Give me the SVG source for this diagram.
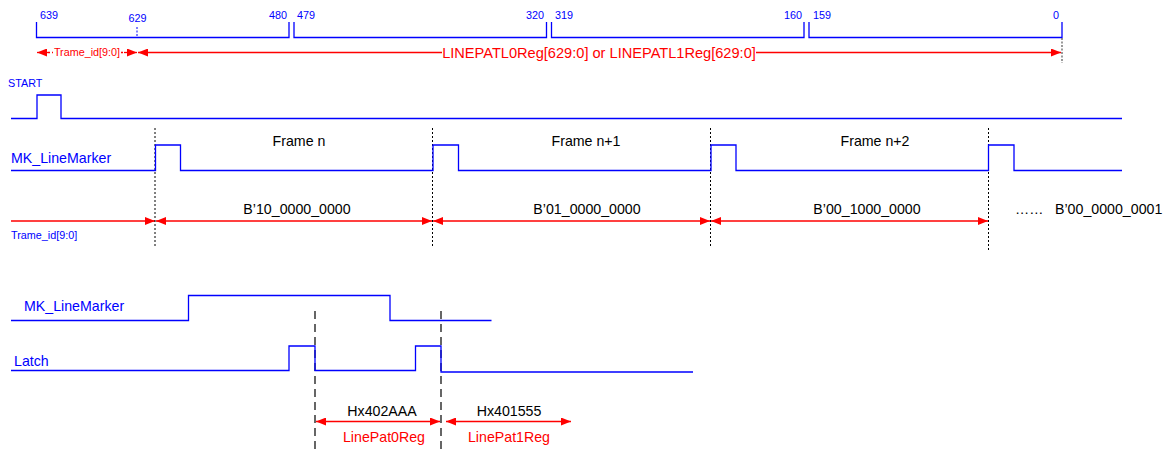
<svg xmlns="http://www.w3.org/2000/svg" width="1168" height="450" viewBox="0 0 1168 450">
<defs>
<marker id="ah" viewBox="0 0 10 8" refX="10" refY="4" markerWidth="10" markerHeight="8" markerUnits="userSpaceOnUse" orient="auto-start-reverse"><path d="M0,0 L10,4 L0,8 Z" fill="#ff0000"/></marker>
</defs>
<style>
.sig{fill:none;stroke:#0000ff;stroke-width:1.3}
.red{fill:none;stroke:#ff0000;stroke-width:1.3}
.dot{fill:none;stroke:#000;stroke-width:1;stroke-dasharray:2,2}
.dash{fill:none;stroke:#000;stroke-width:1.2;stroke-dasharray:8,5}
.bl{font-family:"Liberation Sans",Arial,sans-serif;fill:#0000ff}
.bk{font-family:"Liberation Sans",Arial,sans-serif;fill:#000;font-size:14.2px}
.rd{font-family:"Liberation Sans",Arial,sans-serif;fill:#ff0000}
.s10{font-size:10.8px}
.s13{font-size:14.2px}
.s14{font-size:14.6px}
</style>
<rect width="1168" height="450" fill="#fff"/>

<g id="bitmap">
<path class="sig" d="M36.5,22 V37.5 H289 V22"/>
<path class="sig" d="M294,22 V37.5 H546.5 V22"/>
<path class="sig" d="M551.5,22 V37.5 H804 V22"/>
<path class="sig" d="M809,22 V37.5 H1062 V22"/>
<path d="M137,27 V37" fill="none" stroke="#0000ff" stroke-width="1" stroke-dasharray="2,1.5"/>
<path d="M1062,38 V63" fill="none" stroke="#555" stroke-width="1.2" stroke-dasharray="2,1.5"/>
<text class="bl s10" x="40" y="19">639</text>
<text class="bl s10" x="137.5" y="22" text-anchor="middle">629</text>
<text class="bl s10" x="287" y="19" text-anchor="end">480</text>
<text class="bl s10" x="297" y="19">479</text>
<text class="bl s10" x="544" y="19" text-anchor="end">320</text>
<text class="bl s10" x="555" y="19">319</text>
<text class="bl s10" x="802" y="19" text-anchor="end">160</text>
<text class="bl s10" x="813" y="19">159</text>
<text class="bl s10" x="1059" y="19" text-anchor="end">0</text>
</g>

<g id="connectors">
<path class="red" d="M37,52.5 H48" marker-start="url(#ah)"/>
<path class="red" d="M124,52.5 H137" marker-end="url(#ah)"/>
<path class="red" d="M48,52.5 H53 M121,52.5 H124" stroke-dasharray="2,2"/>
<path class="red" d="M138,52.5 H442" marker-start="url(#ah)"/>
<path class="red" d="M756,52.5 H1061" marker-end="url(#ah)"/>
<path class="red" d="M11,221 H155" marker-end="url(#ah)"/>
<path class="red" d="M156,221 H432" marker-start="url(#ah)" marker-end="url(#ah)"/>
<path class="red" d="M433,221 H710" marker-start="url(#ah)" marker-end="url(#ah)"/>
<path class="red" d="M711,221 H988" marker-start="url(#ah)" marker-end="url(#ah)"/>
<path class="red" d="M316,421.5 H440" marker-start="url(#ah)" marker-end="url(#ah)"/>
<path class="red" d="M446,421.5 H571" marker-start="url(#ah)" marker-end="url(#ah)"/>
<path class="dot" d="M155,128 V248 M432.5,128 V248 M710.5,128 V248 M988.5,128 V250"/>
<path class="dash" d="M315,311 V450 M441,311 V450"/>
</g>

<g id="labels-top">
<text class="rd s10" x="87" y="56" text-anchor="middle">Trame_id[9:0]</text>
<text class="rd s14" x="599" y="57.5" text-anchor="middle">LINEPATL0Reg[629:0] or LINEPATL1Reg[629:0]</text>
</g>

<g id="start">
<text class="bl s10" x="8" y="87">START</text>
<path class="sig" d="M11,118.5 H37 V95 H61 V118.5 H1122"/>
</g>

<g id="mk-linemarker">
<text class="bl s13" x="11" y="163">MK_LineMarker</text>
<path class="sig" d="M11,170.5 H155.5 V145 H180.5 V170.5 H433 V145 H458.5 V170.5 H711 V145 H736 V170.5 H988.5 V145 H1014 V170.5 H1122"/>
<text class="bk" x="299" y="145.5" text-anchor="middle">Frame n</text>
<text class="bk" x="586" y="145.5" text-anchor="middle">Frame n+1</text>
<text class="bk" x="875" y="145.5" text-anchor="middle">Frame n+2</text>
</g>

<g id="trame-id">
<text class="bl s10" x="11" y="239">Trame_id[9:0]</text>
<text class="bk" x="297" y="214" text-anchor="middle">B’10_0000_0000</text>
<text class="bk" x="587" y="214" text-anchor="middle">B’01_0000_0000</text>
<text class="bk" x="867" y="214" text-anchor="middle">B’00_1000_0000</text>
<text class="bk" x="1015" y="214">……</text>
<text class="bk" x="1055" y="214">B’00_0000_0001</text>
</g>

<g id="mk-linemarker-2">
<text class="bl s13" x="24" y="311">MK_LineMarker</text>
<path class="sig" d="M11,320.5 H188.5 V295.5 H390 V320.5 H491.5"/>
</g>

<g id="latch">
<text class="bl s13" x="14" y="365.5">Latch</text>
<path class="sig" d="M11,370.5 H289 V346 H315 V370.5 H415.5 V346 H441 V372 H693"/>
</g>

<g id="linepat">
<text class="bk" x="382" y="416" text-anchor="middle">Hx402AAA</text>
<text class="rd s13" x="384" y="442" text-anchor="middle">LinePat0Reg</text>
<text class="bk" x="509" y="416" text-anchor="middle">Hx401555</text>
<text class="rd s13" x="509" y="442" text-anchor="middle">LinePat1Reg</text>
</g>
</svg>
